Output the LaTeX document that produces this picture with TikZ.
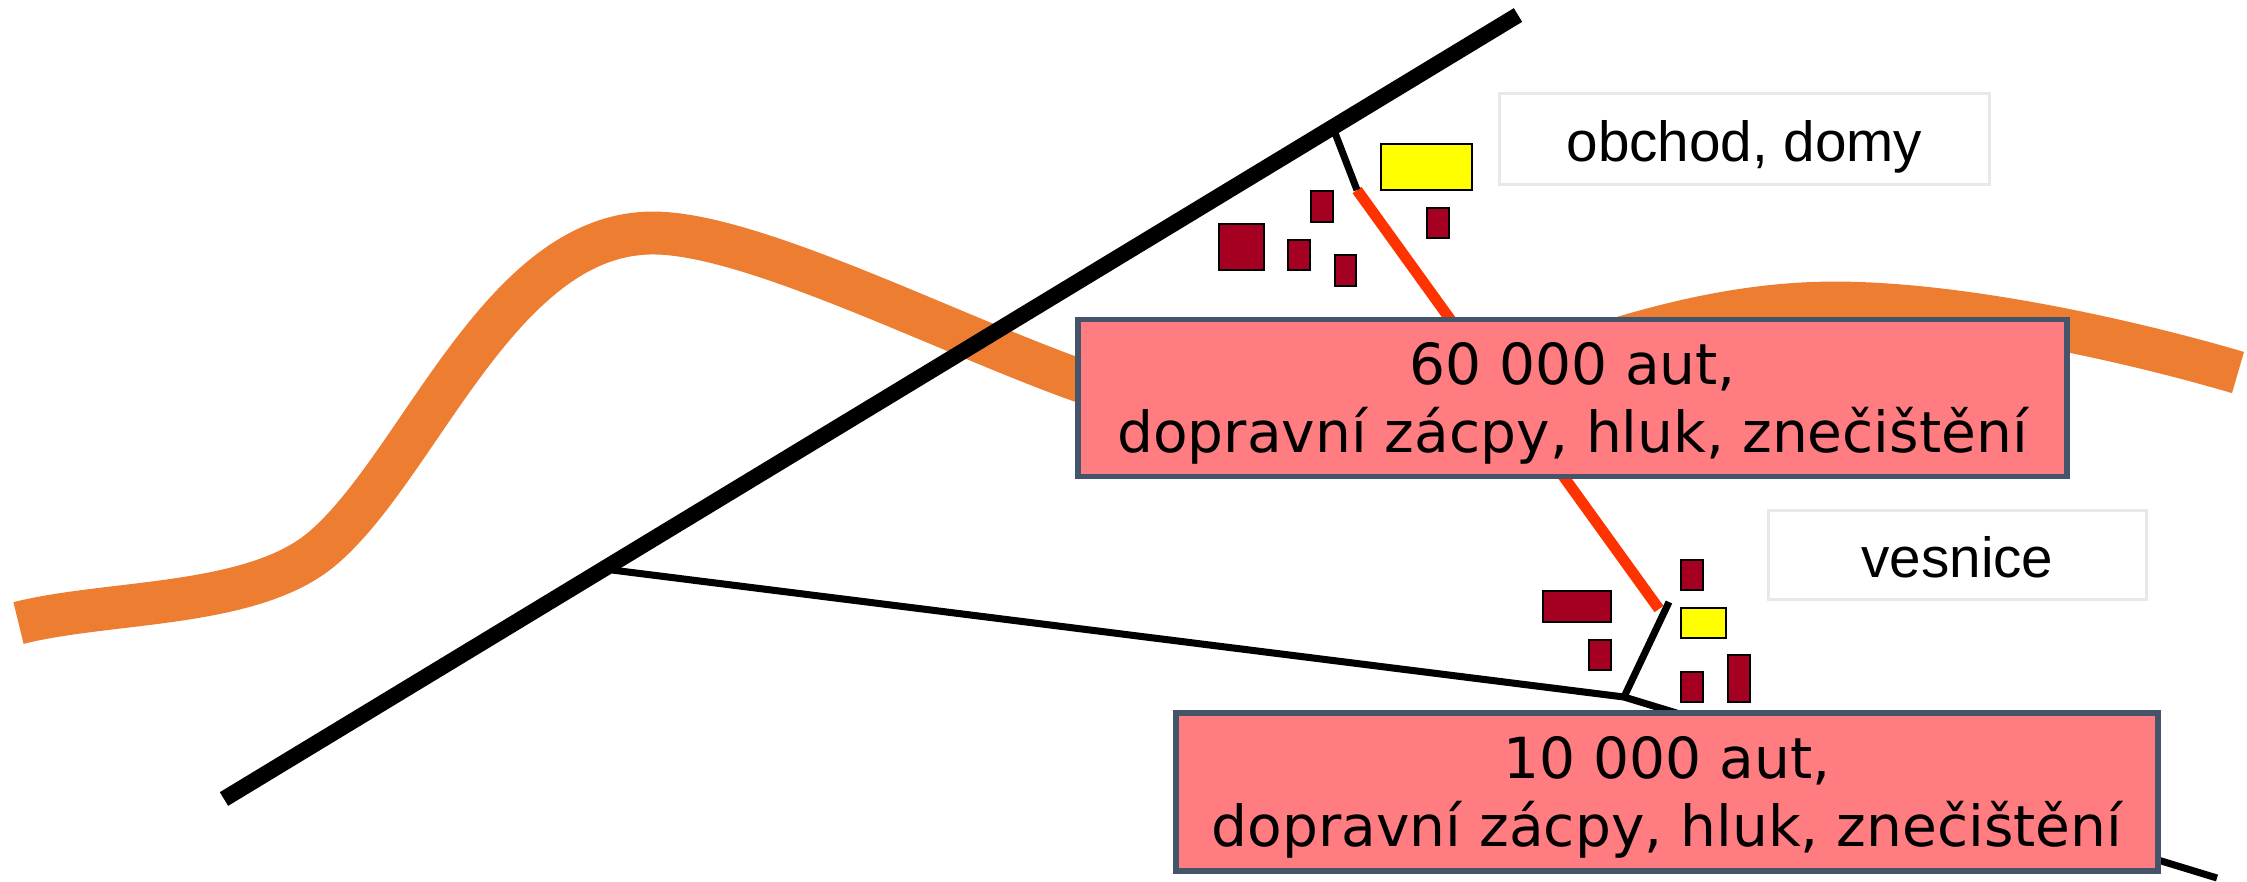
\documentclass[tikz,border=0pt]{standalone}
\usepackage{fontspec}
\setmainfont{DejaVu Sans}
\newfontfamily\labelfont{Liberation Sans}
\definecolor{river}{HTML}{ED7D31}
\definecolor{jam}{HTML}{FF3300}
\definecolor{house}{HTML}{A50021}
\definecolor{shop}{HTML}{FFFF00}
\definecolor{traffic}{HTML}{FF7C80}
\definecolor{frame}{HTML}{44546A}
\definecolor{tag}{HTML}{E8E8E8}
\tikzset{
  highway/.style={black, line width=4.55pt},
  road/.style={black, line width=2pt},
  hotroad/.style={jam, line width=3.1pt},
  houseblock/.style={draw=black, fill=house, line width=0.7pt},
  shopblock/.style={draw=black, fill=shop, line width=0.7pt},
  trafficbox/.style={draw=frame, fill=traffic, line width=1.6pt, inner sep=0pt, align=center,
    font=\fontsize{16.1}{19.6}\selectfont},
  tagbox/.style={draw=tag, fill=white, line width=0.85pt, inner sep=0pt, text height=15.6pt, text depth=2.8pt,
    font=\labelfont\fontsize{16.1}{19}\selectfont}
}
\begin{document}
\begin{tikzpicture}[x=0.01cm, y=-0.01cm]
\useasboundingbox (0,0) rectangle (2247,881);

% river
\draw[river, line width=12.2pt] (18.5,623) .. controls (110,600) and (253,608) .. (323,548)
  .. controls (420,465) and (500,233) .. (653,233)
  .. controls (750,233) and (940,330) .. (1075,379)
  .. controls (1260,445) and (1430,395) .. (1628,336)
  .. controls (1690,318) and (1760,303) .. (1835,303)
  .. controls (1950,303) and (2110,335) .. (2238,372.5);

% roads
\coordinate (hwyA) at (224,799);
\coordinate (hwyB) at (1518,15);
\coordinate (turnoff) at (612,570);
\coordinate (village) at (1624,697);
\coordinate (roadend) at (2217,878);
\coordinate (villageend) at (1669,602);
\coordinate (shopgate) at (1335,133);
\coordinate (shopend) at (1357,190);
\coordinate (hotend) at (1659,609);

\draw[road] (turnoff) -- (village);
\draw[road] (village) -- (roadend);
\draw[hotroad] (shopend) -- (hotend);
\draw[road] (village) -- (villageend);
\draw[road] (shopgate) -- (shopend);
\draw[highway] (hwyA) -- (hwyB);

% town
\draw[shopblock] (1381,144) rectangle (1472,190);
\draw[houseblock] (1219,224) rectangle (1264,270);
\draw[houseblock] (1311,191) rectangle (1333,222);
\draw[houseblock] (1288,240) rectangle (1310,270);
\draw[houseblock] (1335,255) rectangle (1356,286);
\draw[houseblock] (1427,208) rectangle (1449,238);

% village
\draw[shopblock] (1681,608) rectangle (1726,638);
\draw[houseblock] (1681,560) rectangle (1703,590);
\draw[houseblock] (1543,591) rectangle (1611,622);
\draw[houseblock] (1589,640) rectangle (1611,670);
\draw[houseblock] (1681,672) rectangle (1703,702);
\draw[houseblock] (1728,655) rectangle (1750,702);

% labels
\node[tagbox, minimum width=4.89cm, minimum height=0.9cm] (shoptag) at (1744.5,139) {obchod, domy};
\node[tagbox, minimum width=3.77cm, minimum height=0.88cm] (villagetag) at (1957.5,555) {vesnice};
\node[trafficbox, minimum width=9.89cm, minimum height=1.57cm] (towntraffic) at (1572.5,398) {\rule{0pt}{15pt}60 000 aut,\\dopravní zácpy, hluk, znečištění};
\node[trafficbox, minimum width=9.81cm, minimum height=1.575cm] (villagetraffic) at (1667,792) {\rule{0pt}{15pt}10 000 aut,\\dopravní zácpy, hluk, znečištění};

\end{tikzpicture}
\end{document}
